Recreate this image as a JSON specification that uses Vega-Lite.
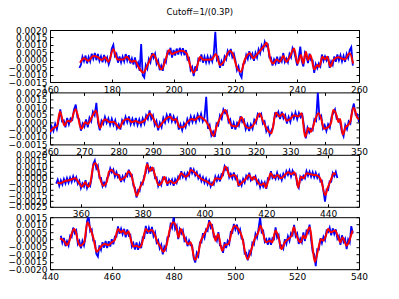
{
"$schema":"https://vega.github.io/schema/vega-lite/v6.json",
"autosize":{"type":"pad"},
"padding":{"left":7,"top":8,"right":0,"bottom":0},
"background":"white",
"title":{"text":"Cutoff=1/(0.3P)","fontSize":8.5,"fontWeight":"normal","font":"DejaVu Sans","offset":9,"anchor":"middle","dx":12,"color":"black"},
"spacing":10.4,
"bounds":"flush",
"config":{
"font":"DejaVu Sans",
"view":{"stroke":"black","strokeWidth":1},
"axis":{"domain":false,"grid":false,"tickColor":"black","tickSize":-3,"labelFont":"DejaVu Sans","labelFontSize":9,"labelColor":"black","labelOverlap":false,"labelFlush":false,"labelBound":false,"labelPadding":6,"title":null}
},
"datasets":{
"red":[
{"x":169.7,"y":-0.0002},{"x":171,"y":0.0001},{"x":172.4,"y":-0.00007},{"x":174,"y":0.00025},{"x":175.6,"y":0.00016},{"x":176.7,"y":-0.00002},{"x":177.8,"y":0.00016},{"x":178.9,"y":-0.00013},{"x":180.5,"y":0.0007},{"x":181.8,"y":0.00002},{"x":183.7,"y":0.00002},{"x":184.8,"y":0.0002},{"x":186.4,"y":-0.00013},{"x":187.5,"y":-0.00007},{"x":188.6,"y":-0.00047},{"x":190.2,"y":-0.00087},{"x":191.8,"y":-0.00025},{"x":193.4,"y":0.00036},{"x":194.7,"y":-0.00013},{"x":196.1,"y":-0.00065},{"x":197.2,"y":-0.00013},{"x":198.6,"y":0.00065},{"x":199.4,"y":0.00038},{"x":200.4,"y":0.00047},{"x":202.6,"y":0.0006},{"x":204.2,"y":0.00043},{"x":205.5,"y":-0.00047},{"x":206.4,"y":-0.00087},{"x":207.5,"y":-0.0005},{"x":208.6,"y":0.0002},{"x":209.6,"y":0},{"x":212.3,"y":0.00002},{"x":213.7,"y":0.00038},{"x":215,"y":-0.00036},{"x":216,"y":-0.0002},{"x":218.2,"y":0.00058},{"x":219.3,"y":0.00031},{"x":220.4,"y":-0.00047},{"x":221.8,"y":-0.00081},{"x":223,"y":-0.00002},{"x":224.7,"y":0.00043},{"x":225.8,"y":0.00009},{"x":226.8,"y":0.00031},{"x":229.5,"y":0.00099},{"x":230.1,"y":0.00114},{"x":231.4,"y":-0.00002},{"x":232.2,"y":-0.00025},{"x":233.3,"y":0.00002},{"x":234.4,"y":-0.00013},{"x":235.5,"y":0.00025},{"x":236.5,"y":-0.00013},{"x":237.6,"y":0.0002},{"x":239,"y":0.00076},{"x":240.1,"y":-0.00025},{"x":241.2,"y":0.00031},{"x":242,"y":-0.00025},{"x":242.8,"y":0.00054},{"x":243.5,"y":-0.00002},{"x":244.3,"y":0.00031},{"x":245.5,"y":-0.00065},{"x":246.5,"y":-0.00036},{"x":247.1,"y":-0.00047},{"x":248.2,"y":0.0002},{"x":249,"y":0.00002},{"x":249.7,"y":0.0002},{"x":250.8,"y":-0.00047},{"x":251.7,"y":-0.00002},{"x":253.3,"y":0.00016},{"x":254.3,"y":0.00009},{"x":255.4,"y":0.00002},{"x":257,"y":0.00043},{"x":258.1,"y":-0.00025},
{"x":260,"y":-0.00066},{"x":261,"y":-0.0004},{"x":262,"y":-0.00027},{"x":262.9,"y":0.00069},{"x":263.7,"y":0.0001},{"x":264.2,"y":-0.00023},{"x":265.1,"y":0.0001},{"x":266,"y":0.00003},{"x":267.4,"y":0.00086},{"x":268,"y":0.00054},{"x":268.7,"y":-0.00023},{"x":269.2,"y":-0.00045},{"x":270.2,"y":-0.00001},{"x":271,"y":-0.00012},{"x":272.3,"y":0.0004},{"x":273.4,"y":0.00076},{"x":274.6,"y":-0.0004},{"x":275.5,"y":0.0001},{"x":276.3,"y":0.00017},{"x":277.3,"y":0},{"x":278.4,"y":0.00003},{"x":279.4,"y":-0.00018},{"x":280.2,"y":-0.0004},{"x":281.4,"y":0.0001},{"x":282.8,"y":0.00021},{"x":283.8,"y":0},{"x":284.8,"y":0.00008},{"x":286.2,"y":-0.00005},{"x":287.5,"y":0.0001},{"x":289.1,"y":0.00058},{"x":290.6,"y":0},{"x":291.6,"y":-0.00034},{"x":292.5,"y":-0.00012},{"x":293.7,"y":0.00021},{"x":295,"y":0.00036},{"x":295.9,"y":0.00014},{"x":296.7,"y":0.00021},{"x":297.7,"y":-0.00034},{"x":298.8,"y":-0.00034},{"x":300,"y":0},{"x":301.3,"y":0.00021},{"x":302.2,"y":0.00014},{"x":303.5,"y":0.00038},{"x":304.7,"y":0.00021},{"x":305.6,"y":0},{"x":306.6,"y":-0.00045},{"x":307.6,"y":-0.00093},{"x":308.6,"y":-0.00023},{"x":309.5,"y":0.00025},{"x":311,"y":0.00082},{"x":312,"y":0.00021},{"x":312.9,"y":-0.00023},{"x":314.4,"y":-0.00029},{"x":315.8,"y":0.00032},{"x":316.8,"y":-0.00023},{"x":317.8,"y":-0.0004},{"x":318.7,"y":-0.00034},{"x":320.2,"y":0.00021},{"x":321,"y":0.00058},{"x":322,"y":0.0001},{"x":323.1,"y":-0.00045},{"x":324.5,"y":-0.00075},{"x":325.8,"y":0.00065},{"x":326.8,"y":0.00038},{"x":327.8,"y":0.00054},{"x":329,"y":0.0001},{"x":330,"y":0.00021},{"x":331.1,"y":0.00047},{"x":332.3,"y":0.00038},{"x":333.3,"y":0.0006},{"x":334.3,"y":-0.00099},{"x":335.3,"y":-0.0004},{"x":336,"y":-0.00066},{"x":337.2,"y":0.00014},{"x":338.2,"y":0.0006},{"x":339,"y":0.00021},{"x":339.8,"y":-0.00045},{"x":341.1,"y":-0.00034},{"x":341.9,"y":0},{"x":342.5,"y":0.00082},{"x":343.5,"y":0.00043},{"x":344,"y":0},{"x":344.5,"y":0.00021},{"x":345.3,"y":-0.00084},{"x":346.1,"y":-0.00034},{"x":346.9,"y":-0.00018},{"x":347.4,"y":0},{"x":348.4,"y":0.00097},{"x":348.9,"y":0.00076},{"x":349.4,"y":0.00032},{"x":350,"y":0.0002},
{"x":352.4,"y":-0.00038},{"x":353.2,"y":-0.00047},{"x":354.8,"y":-0.00027},{"x":356.4,"y":-0.00018},{"x":358.1,"y":-0.00003},{"x":359.5,"y":-0.00047},{"x":360.3,"y":-0.00076},{"x":361.4,"y":-0.00038},{"x":361.9,"y":-0.00062},{"x":362.4,"y":-0.00076},{"x":363,"y":-0.00047},{"x":364.1,"y":0.00113},{"x":364.6,"y":0.00127},{"x":365.5,"y":0.00084},{"x":366.2,"y":-0.00003},{"x":367.3,"y":-0.00067},{"x":368.4,"y":-0.00033},{"x":369.1,"y":0.00055},{"x":370,"y":0.00069},{"x":371.1,"y":0.00031},{"x":372.2,"y":0.00026},{"x":372.7,"y":-0.00018},{"x":373.8,"y":-0.00003},{"x":374.5,"y":0.00011},{"x":375.4,"y":0.00055},{"x":376.3,"y":0.00026},{"x":377,"y":-0.00047},{"x":378.1,"y":-0.00155},{"x":379,"y":-0.00091},{"x":379.8,"y":-0.00047},{"x":380.5,"y":-0.00003},{"x":381.4,"y":0.00119},{"x":382.3,"y":0.0006},{"x":383.1,"y":0.0009},{"x":384.1,"y":0.00011},{"x":385.2,"y":-0.00062},{"x":386.3,"y":-0.00033},{"x":387,"y":0.00011},{"x":387.9,"y":-0.00047},{"x":389,"y":-0.00027},{"x":390,"y":-0.00047},{"x":391.7,"y":-0.00003},{"x":392.4,"y":0.0004},{"x":393.8,"y":0.00011},{"x":394.9,"y":0.00031},{"x":395.5,"y":0.00069},{"x":397.1,"y":0.0004},{"x":398.1,"y":0.00011},{"x":398.7,"y":-0.00003},{"x":400.9,"y":-0.00033},{"x":402.5,"y":-0.00062},{"x":403.6,"y":-0.00003},{"x":405.2,"y":-0.00009},{"x":406.8,"y":0.00098},{"x":407.4,"y":0.00069},{"x":408.2,"y":0.00011},{"x":409.5,"y":0.00026},{"x":410.4,"y":0.00002},{"x":411.1,"y":-0.00062},{"x":412.2,"y":-0.00038},{"x":413.3,"y":-0.00009},{"x":414.4,"y":0.00026},{"x":415.5,"y":-0.00018},{"x":416,"y":0.00011},{"x":417.3,"y":-0.00038},{"x":418.2,"y":-0.00062},{"x":419.3,"y":-0.00047},{"x":419.8,"y":-0.00085},{"x":420.9,"y":0.00002},{"x":421.4,"y":0.0004},{"x":422.5,"y":0.00002},{"x":423.6,"y":0.00026},{"x":424.7,"y":-0.00003},{"x":426,"y":0.00026},{"x":427.1,"y":0.00049},{"x":428.1,"y":0.00031},{"x":429,"y":0.00049},{"x":429.9,"y":-0.00018},{"x":430.3,"y":-0.00085},{"x":431.2,"y":0.00011},{"x":432,"y":-0.00003},{"x":433.1,"y":0.0004},{"x":434.4,"y":0.00031},{"x":435.5,"y":0.00026},{"x":436.6,"y":0.0002},{"x":437.7,"y":-0.00018},{"x":439.1,"y":-0.00149},{"x":439.8,"y":-0.00091},{"x":440.9,"y":-0.00018},{"x":441.8,"y":0.0004},{"x":442.5,"y":0.00031},
{"x":443.2,"y":0.00008},{"x":444,"y":-0.00001},{"x":444.9,"y":-0.00019},{"x":445.4,"y":-0.00037},{"x":446.3,"y":-0.00008},{"x":446.8,"y":0.00026},{"x":447.8,"y":0.00071},{"x":448.4,"y":0.00048},{"x":449,"y":-0.00008},{"x":449.7,"y":-0.00042},{"x":450.6,"y":-0.00031},{"x":451.1,"y":-0.00015},{"x":452.1,"y":0.00116},{"x":452.9,"y":0.00082},{"x":454,"y":0.00014},{"x":455.1,"y":-0.00083},{"x":455.9,"y":-0.00065},{"x":456.7,"y":-0.00042},{"x":457.8,"y":-0.00031},{"x":458.9,"y":-0.00037},{"x":460,"y":-0.00019},{"x":461,"y":-0.00001},{"x":461.6,"y":0.00048},{"x":462.1,"y":0.00071},{"x":462.9,"y":0.00048},{"x":463.7,"y":0.0006},{"x":464.5,"y":0.00037},{"x":465.4,"y":0.00053},{"x":466.1,"y":0.00003},{"x":467,"y":-0.00047},{"x":468,"y":-0.00042},{"x":468.9,"y":-0.00053},{"x":469.7,"y":-0.00031},{"x":471,"y":0.00071},{"x":471.8,"y":0.00053},{"x":472.9,"y":0.00064},{"x":474,"y":0.00026},{"x":474.8,"y":-0.00019},{"x":475.6,"y":-0.00042},{"x":476.7,"y":-0.00083},{"x":477.8,"y":-0.00031},{"x":478.8,"y":0.00071},{"x":479.9,"y":0.00116},{"x":481,"y":0.00071},{"x":481.6,"y":0.00014},{"x":482.3,"y":0.00071},{"x":483.1,"y":0.00037},{"x":483.9,"y":-0.00008},{"x":484.8,"y":-0.00031},{"x":485.5,"y":-0.00019},{"x":486.9,"y":-0.00137},{"x":488,"y":-0.0009},{"x":488.8,"y":-0.0001},{"x":489.5,"y":0.0002},{"x":491,"y":0.0008},{"x":491.7,"y":0.00116},{"x":492.9,"y":0.00048},{"x":493.6,"y":-0.00008},{"x":494.4,"y":0.00037},{"x":495.7,"y":-0.00076},{"x":496.6,"y":-0.00037},{"x":497.7,"y":-0.00031},{"x":499.1,"y":0.00071},{"x":499.8,"y":0.00093},{"x":500.9,"y":0.00071},{"x":502,"y":0.00026},{"x":503.9,"y":-0.00132},{"x":505.2,"y":-0.00065},{"x":506.3,"y":0.00008},{"x":507.4,"y":0.00048},{"x":508.1,"y":0.00093},{"x":509,"y":0.00037},{"x":509.9,"y":-0.00019},{"x":511.2,"y":-0.00008},{"x":511.9,"y":-0.00019},{"x":513,"y":0.0006},{"x":514.1,"y":0.00003},{"x":514.9,"y":-0.00065},{"x":516,"y":-0.00019},{"x":517.1,"y":0.00003},{"x":518.2,"y":0.00026},{"x":518.9,"y":0.00082},{"x":519.6,"y":0.00037},{"x":520.5,"y":-0.00008},{"x":521.1,"y":-0.00019},{"x":522,"y":0.00026},{"x":522.6,"y":0.00008},{"x":523.6,"y":0.00071},{"x":524.1,"y":0.00082},{"x":524.9,"y":-0.0004},{"x":525.7,"y":-0.00151},{"x":526.8,"y":-0.00065},{"x":527.7,"y":0.00003},{"x":528.4,"y":-0.00008},{"x":529.3,"y":0.00026},{"x":530,"y":0.00071},{"x":530.9,"y":0.00048},{"x":532.2,"y":0.0006},{"x":533.3,"y":0.00014},{"x":533.9,"y":-0.00019},{"x":534.7,"y":0.00014},{"x":536,"y":-0.00042},{"x":537,"y":-0.00001},{"x":537.9,"y":0.0006}
],
"blue":[
{"x":169.5,"y":-0.00055},{"x":170,"y":-0.00035},{"x":170.5,"y":0.0002},{"x":171,"y":-0.0001},{"x":171.5,"y":0.00028},{"x":172,"y":-0.00025},{"x":172.5,"y":0.00018},{"x":173,"y":-0.00012},{"x":173.5,"y":0.0004},{"x":174,"y":0.00005},{"x":174.5,"y":0.00045},{"x":175,"y":-0.00003},{"x":175.5,"y":0.00038},{"x":176,"y":-0.00008},{"x":176.5,"y":0.00022},{"x":177,"y":-0.00018},{"x":177.5,"y":0.00032},{"x":178,"y":-0.0001},{"x":178.5,"y":0.00015},{"x":179,"y":-0.0003},{"x":179.5,"y":0.00005},{"x":180,"y":0.00075},{"x":180.5,"y":0.001},{"x":181,"y":0.00025},{"x":181.5,"y":0.0004},{"x":182,"y":-0.0002},{"x":182.5,"y":0.00022},{"x":183,"y":-0.00018},{"x":183.5,"y":0.0002},{"x":184,"y":-0.00012},{"x":184.5,"y":0.00038},{"x":185,"y":-0.00005},{"x":185.5,"y":0.0003},{"x":186,"y":-0.00025},{"x":186.5,"y":0.00008},{"x":187,"y":-0.00032},{"x":187.5,"y":0.00015},{"x":188,"y":-0.00045},{"x":188.5,"y":-0.0002},{"x":189,"y":-0.00075},{"x":189.5,"y":0.00105},{"x":190,"y":-0.00105},{"x":190.5,"y":-0.0012},{"x":191,"y":-0.00035},{"x":191.5,"y":-0.0006},{"x":192,"y":0.00005},{"x":192.5,"y":-0.00018},{"x":193,"y":0.00045},{"x":193.5,"y":0.00012},{"x":194,"y":0.0004},{"x":194.5,"y":-0.00028},{"x":195,"y":-0.00005},{"x":195.5,"y":-0.0007},{"x":196,"y":-0.0004},{"x":196.5,"y":-0.00075},{"x":197,"y":-0.00002},{"x":197.5,"y":-0.00018},{"x":198,"y":0.00055},{"x":198.5,"y":0.0004},{"x":199,"y":0.0008},{"x":199.5,"y":0.00015},{"x":200,"y":0.00065},{"x":200.5,"y":0.00028},{"x":201,"y":0.00075},{"x":201.5,"y":0.00035},{"x":202,"y":0.0008},{"x":202.5,"y":0.00042},{"x":203,"y":0.00078},{"x":203.5,"y":0.0003},{"x":204,"y":0.00065},{"x":204.5,"y":0},{"x":205,"y":0.0001},{"x":205.5,"y":-0.0007},{"x":206,"y":-0.0005},{"x":206.5,"y":-0.0011},{"x":207,"y":-0.00045},{"x":207.5,"y":-0.00075},{"x":208,"y":0.00005},{"x":208.5,"y":-0.00005},{"x":209,"y":0.00035},{"x":209.5,"y":-0.0002},{"x":210,"y":0.0002},{"x":210.5,"y":-0.00018},{"x":211,"y":0.00022},{"x":211.5,"y":-0.00017},{"x":212,"y":0.0002},{"x":212.5,"y":-0.00012},{"x":213,"y":0.0004},{"x":213.5,"y":0.00188},{"x":214,"y":0},{"x":214.5,"y":0.00015},{"x":215,"y":-0.00055},{"x":215.5,"y":-0.0001},{"x":216,"y":-0.0004},{"x":216.5,"y":0.00022},{"x":217,"y":0.00002},{"x":217.5,"y":0.0006},{"x":218,"y":0.00035},{"x":218.5,"y":0.00072},{"x":219,"y":0.00018},{"x":219.5,"y":0.0004},{"x":220,"y":-0.00005},{"x":220.5,"y":-0.0007},{"x":221,"y":-0.00045},{"x":221.5,"y":-0.001},{"x":222,"y":-0.0012},{"x":222.5,"y":-0.0003},{"x":223,"y":-0.00022},{"x":223.5,"y":0.00032},{"x":224,"y":0.00005},{"x":224.5,"y":0.00058},{"x":225,"y":0.00015},{"x":225.5,"y":0.0004},{"x":226,"y":-0.00008},{"x":226.5,"y":0.00045},{"x":227,"y":0.00015},{"x":227.5,"y":0.0007},{"x":228,"y":0.00042},{"x":228.5,"y":0.00095},{"x":229,"y":0.00068},{"x":229.5,"y":0.0012},{"x":230,"y":0.0009},{"x":230.5,"y":0.001},{"x":231,"y":0.00015},{"x":231.5,"y":0.00015},{"x":232,"y":-0.0004},{"x":232.5,"y":0.00002},{"x":233,"y":-0.00025},{"x":233.5,"y":0.0002},{"x":234,"y":-0.00028},{"x":234.5,"y":0.00012},{"x":235,"y":-0.00012},{"x":235.5,"y":0.00045},{"x":236,"y":-0.00015},{"x":236.5,"y":0.00008},{"x":237,"y":-0.00018},{"x":237.5,"y":0.00038},{"x":238,"y":0.00015},{"x":238.5,"y":0.00078},{"x":239,"y":0.00055},{"x":239.5,"y":0.0001},{"x":240,"y":-0.0004},{"x":240.5,"y":0.00015},{"x":241,"y":0.00088},{"x":241.5,"y":-0.0001},{"x":242,"y":-0.00045},{"x":242.5,"y":0.00045},{"x":243,"y":0.0002},{"x":243.5,"y":-0.00022},{"x":244,"y":0.0004},{"x":244.5,"y":-0.00005},{"x":245,"y":-0.00005},{"x":245.5,"y":-0.00088},{"x":246,"y":-0.0003},{"x":246.5,"y":-0.00058},{"x":247,"y":-0.00025},{"x":247.5,"y":-0.00045},{"x":248,"y":0.00035},{"x":248.5,"y":-0.00008},{"x":249,"y":0.00022},{"x":249.5,"y":-0.00005},{"x":250,"y":0.00022},{"x":250.5,"y":-0.00055},{"x":251,"y":-0.00012},{"x":251.5,"y":-0.00035},{"x":252,"y":0.00022},{"x":252.5,"y":-0.00014},{"x":253,"y":0.00035},{"x":253.5,"y":-0.00005},{"x":254,"y":0.0003},{"x":254.5,"y":-0.00012},{"x":255,"y":0.00025},{"x":255.5,"y":-0.00015},{"x":256,"y":0.00038},{"x":256.5,"y":0.0001},{"x":257,"y":0.00065},{"x":257.5,"y":0.00085},{"x":258,"y":-0.0004},
{"x":260,"y":-0.00085},{"x":260.5,"y":-0.0003},{"x":261,"y":-0.0006},{"x":261.5,"y":-0.00012},{"x":262,"y":-0.00048},{"x":262.5,"y":0.0001},{"x":263,"y":0.00085},{"x":263.5,"y":0.00005},{"x":264,"y":0.00012},{"x":264.5,"y":-0.00035},{"x":265,"y":0.00028},{"x":265.5,"y":-0.00015},{"x":266,"y":0.00025},{"x":266.5,"y":0.00015},{"x":267,"y":0.00085},{"x":267.5,"y":0.00118},{"x":268,"y":0.0003},{"x":268.5,"y":0.0002},{"x":269,"y":-0.00058},{"x":269.5,"y":-0.0001},{"x":270,"y":-0.00032},{"x":270.5,"y":0.00018},{"x":271,"y":-0.00035},{"x":271.5,"y":0.0003},{"x":272,"y":0.00005},{"x":272.5,"y":0.0007},{"x":273,"y":0.00045},{"x":273.5,"y":0.0013},{"x":274,"y":-0.00005},{"x":274.5,"y":-0.00055},{"x":275,"y":0.0001},{"x":275.5,"y":-0.00012},{"x":276,"y":0.00035},{"x":276.5,"y":-0.00005},{"x":277,"y":0.00025},{"x":277.5,"y":-0.0002},{"x":278,"y":0.00022},{"x":278.5,"y":-0.0002},{"x":279,"y":0.00012},{"x":279.5,"y":-0.00042},{"x":280,"y":-0.00015},{"x":280.5,"y":-0.0005},{"x":281,"y":0.00014},{"x":281.5,"y":-0.0001},{"x":282,"y":0.00036},{"x":282.5,"y":-0.00002},{"x":283,"y":0.00038},{"x":283.5,"y":-0.00015},{"x":284,"y":0.00022},{"x":284.5,"y":-0.00015},{"x":285,"y":0.00028},{"x":285.5,"y":-0.0002},{"x":286,"y":0.00018},{"x":286.5,"y":-0.00022},{"x":287,"y":0.00025},{"x":287.5,"y":-0.0001},{"x":288,"y":0.00045},{"x":288.5,"y":0.0002},{"x":289,"y":0.00078},{"x":289.5,"y":0.0002},{"x":290,"y":0.00045},{"x":290.5,"y":-0.0002},{"x":291,"y":0.00008},{"x":291.5,"y":-0.00055},{"x":292,"y":-0.00005},{"x":292.5,"y":-0.00035},{"x":293,"y":0.00028},{"x":293.5,"y":-0.00003},{"x":294,"y":0.00048},{"x":294.5,"y":0.0001},{"x":295,"y":0.00058},{"x":295.5,"y":0.00005},{"x":296,"y":0.00038},{"x":296.5,"y":-0.00002},{"x":297,"y":0.00025},{"x":297.5,"y":-0.0005},{"x":298,"y":-0.00015},{"x":298.5,"y":-0.00055},{"x":299,"y":-0.00008},{"x":299.5,"y":-0.00035},{"x":300,"y":0.0002},{"x":300.5,"y":-0.00012},{"x":301,"y":0.00038},{"x":301.5,"y":0},{"x":302,"y":0.00038},{"x":302.5,"y":0},{"x":303,"y":0.0005},{"x":303.5,"y":0.00015},{"x":304,"y":0.00055},{"x":304.5,"y":0.00005},{"x":305,"y":0.00035},{"x":305.5,"y":0.0017},{"x":306,"y":-0.00045},{"x":306.5,"y":-0.0002},{"x":307,"y":-0.0009},{"x":307.5,"y":-0.00065},{"x":308,"y":-0.001},{"x":308.5,"y":-0.0001},{"x":309,"y":-0.00022},{"x":309.5,"y":0.00045},{"x":310,"y":0.00022},{"x":310.5,"y":0.00085},{"x":311,"y":0.0006},{"x":311.5,"y":0.00075},{"x":312,"y":0},{"x":312.5,"y":0.00018},{"x":313,"y":-0.00045},{"x":313.5,"y":-0.00005},{"x":314,"y":-0.0005},{"x":314.5,"y":-0.00005},{"x":315,"y":-0.00025},{"x":315.5,"y":0.0004},{"x":316,"y":0},{"x":316.5,"y":0.00015},{"x":317,"y":-0.00048},{"x":317.5,"y":-0.00015},{"x":318,"y":-0.0006},{"x":318.5,"y":-0.00015},{"x":319,"y":-0.00045},{"x":319.5,"y":0.00015},{"x":320,"y":-0.00005},{"x":320.5,"y":0.00055},{"x":321,"y":0.00038},{"x":321.5,"y":0.00055},{"x":322,"y":-0.0001},{"x":322.5,"y":0.00005},{"x":323,"y":-0.00062},{"x":323.5,"y":-0.00035},{"x":324,"y":-0.00085},{"x":324.5,"y":-0.00055},{"x":325,"y":-0.00032},{"x":325.5,"y":0.00055},{"x":326,"y":0.0004},{"x":326.5,"y":0.00068},{"x":327,"y":0.0002},{"x":327.5,"y":0.0007},{"x":328,"y":0.00025},{"x":328.5,"y":0.00048},{"x":329,"y":-0.0001},{"x":329.5,"y":0.00035},{"x":330,"y":0},{"x":330.5,"y":0.00055},{"x":331,"y":0.00025},{"x":331.5,"y":0.00065},{"x":332,"y":0.0002},{"x":332.5,"y":0.00062},{"x":333,"y":0.00032},{"x":333.5,"y":0.0005},{"x":334,"y":-0.0003},{"x":334.5,"y":-0.0011},{"x":335,"y":-0.00038},{"x":335.5,"y":-0.0007},{"x":336,"y":-0.00045},{"x":336.5,"y":-0.00055},{"x":337,"y":0.0002},{"x":337.5,"y":0.00008},{"x":338,"y":0.002},{"x":338.5,"y":0.00025},{"x":339,"y":0.00042},{"x":339.5,"y":-0.00042},{"x":340,"y":-0.0002},{"x":340.5,"y":-0.0006},{"x":341,"y":-0.00015},{"x":341.5,"y":-0.00038},{"x":342,"y":0.00035},{"x":342.5,"y":0.0006},{"x":343,"y":0.00085},{"x":343.5,"y":0.00022},{"x":344,"y":0.0002},{"x":344.5,"y":0},{"x":345,"y":-0.00065},{"x":345.5,"y":-0.00095},{"x":346,"y":-0.0002},{"x":346.5,"y":-0.00048},{"x":347,"y":0.00005},{"x":347.5,"y":-0.0001},{"x":348,"y":0.0008},{"x":348.5,"y":0.00125},{"x":349,"y":0.0005},{"x":349.5,"y":0.00052},{"x":350,"y":0},
{"x":352,"y":-0.0005},{"x":352.5,"y":-0.00015},{"x":353,"y":-0.00068},{"x":353.5,"y":-0.00022},{"x":354,"y":-0.00058},{"x":354.5,"y":-0.0001},{"x":355,"y":-0.00048},{"x":355.5,"y":-0.00002},{"x":356,"y":-0.00042},{"x":356.5,"y":0.00003},{"x":357,"y":-0.00035},{"x":357.5,"y":0.00014},{"x":358,"y":-0.00025},{"x":358.5,"y":0.00005},{"x":359,"y":-0.00052},{"x":359.5,"y":-0.00025},{"x":360,"y":-0.00088},{"x":360.5,"y":-0.00048},{"x":361,"y":-0.00075},{"x":361.5,"y":-0.0002},{"x":362,"y":-0.00088},{"x":362.5,"y":-0.0005},{"x":363,"y":-0.0007},{"x":363.5,"y":0.00005},{"x":364,"y":0.0012},{"x":364.5,"y":0.0015},{"x":365,"y":0.0008},{"x":365.5,"y":0.00105},{"x":366,"y":0},{"x":366.5,"y":0},{"x":367,"y":-0.00072},{"x":367.5,"y":-0.0004},{"x":368,"y":-0.00068},{"x":368.5,"y":0},{"x":369,"y":0.0002},{"x":369.5,"y":0.00082},{"x":370,"y":0.00048},{"x":370.5,"y":0.00072},{"x":371,"y":0.00012},{"x":371.5,"y":0.0005},{"x":372,"y":0.00005},{"x":372.5,"y":0.0002},{"x":373,"y":-0.00035},{"x":373.5,"y":0.00014},{"x":374,"y":-0.0002},{"x":374.5,"y":0.00032},{"x":375,"y":0.00015},{"x":375.5,"y":0.00072},{"x":376,"y":0.00015},{"x":376.5,"y":0.00025},{"x":377,"y":-0.00068},{"x":377.5,"y":-0.00085},{"x":378,"y":-0.0017},{"x":378.5,"y":-0.00105},{"x":379,"y":-0.00115},{"x":379.5,"y":-0.00042},{"x":380,"y":-0.00055},{"x":380.5,"y":0.00018},{"x":381,"y":0.00042},{"x":381.5,"y":0.00135},{"x":382,"y":0.00058},{"x":382.5,"y":0.0009},{"x":383,"y":0.00065},{"x":383.5,"y":0.0008},{"x":384,"y":-0.00002},{"x":384.5,"y":0.00005},{"x":385,"y":-0.0007},{"x":385.5,"y":-0.00032},{"x":386,"y":-0.00062},{"x":386.5,"y":0.00002},{"x":387,"y":-0.0001},{"x":387.5,"y":0},{"x":388,"y":-0.00068},{"x":388.5,"y":-0.00015},{"x":389,"y":-0.00048},{"x":389.5,"y":-0.00015},{"x":390,"y":-0.00068},{"x":390.5,"y":-0.00012},{"x":391,"y":-0.00042},{"x":391.5,"y":0.00012},{"x":392,"y":-0.00005},{"x":392.5,"y":0.00058},{"x":393,"y":0.00008},{"x":393.5,"y":0.00038},{"x":394,"y":-0.00005},{"x":394.5,"y":0.00045},{"x":395,"y":0.00018},{"x":395.5,"y":0.0009},{"x":396,"y":0.0004},{"x":396.5,"y":0.00072},{"x":397,"y":0.00022},{"x":397.5,"y":0.0005},{"x":398,"y":-0.00005},{"x":398.5,"y":0.00022},{"x":399,"y":-0.00028},{"x":399.5,"y":0.00006},{"x":400,"y":-0.00042},{"x":400.5,"y":-0.00006},{"x":401,"y":-0.00055},{"x":401.5,"y":-0.00022},{"x":402,"y":-0.00075},{"x":402.5,"y":-0.0004},{"x":403,"y":-0.00058},{"x":403.5,"y":0.00012},{"x":404,"y":-0.00025},{"x":404.5,"y":0.00015},{"x":405,"y":-0.0003},{"x":405.5,"y":0.00032},{"x":406,"y":0.00025},{"x":406.5,"y":0.001},{"x":407,"y":0.00068},{"x":407.5,"y":0.00085},{"x":408,"y":0.00005},{"x":408.5,"y":0.00035},{"x":409,"y":-0.00002},{"x":409.5,"y":0.00048},{"x":410,"y":-0.00008},{"x":410.5,"y":0.00014},{"x":411,"y":-0.00075},{"x":411.5,"y":-0.0003},{"x":412,"y":-0.00065},{"x":412.5,"y":-0.00008},{"x":413,"y":-0.0004},{"x":413.5,"y":0.00018},{"x":414,"y":-0.00008},{"x":414.5,"y":0.00045},{"x":415,"y":-0.0002},{"x":415.5,"y":0.00002},{"x":416,"y":-0.0001},{"x":416.5,"y":0.00014},{"x":417,"y":-0.0005},{"x":417.5,"y":-0.00022},{"x":418,"y":-0.0008},{"x":418.5,"y":-0.00035},{"x":419,"y":-0.00075},{"x":419.5,"y":-0.0004},{"x":420,"y":-0.00095},{"x":420.5,"y":-0.00005},{"x":421,"y":-0.00012},{"x":421.5,"y":0.00058},{"x":422,"y":0},{"x":422.5,"y":0.00022},{"x":423,"y":-0.00008},{"x":423.5,"y":0.00045},{"x":424,"y":-0.00005},{"x":424.5,"y":0.00022},{"x":425,"y":-0.00018},{"x":425.5,"y":0.00036},{"x":426,"y":0.00005},{"x":426.5,"y":0.00058},{"x":427,"y":0.00025},{"x":427.5,"y":0.00065},{"x":428,"y":0.00012},{"x":428.5,"y":0.00062},{"x":429,"y":0.00028},{"x":429.5,"y":0.00035},{"x":430,"y":-0.00058},{"x":430.5,"y":-0.00085},{"x":431,"y":0.0001},{"x":431.5,"y":-0.00015},{"x":432,"y":0.00018},{"x":432.5,"y":-0.00004},{"x":433,"y":0.00058},{"x":433.5,"y":0.00018},{"x":434,"y":0.00055},{"x":434.5,"y":0.0001},{"x":435,"y":0.0005},{"x":435.5,"y":0.00005},{"x":436,"y":0.00045},{"x":436.5,"y":0},{"x":437,"y":0.00028},{"x":437.5,"y":-0.00032},{"x":438,"y":-0.00025},{"x":438.5,"y":-0.00115},{"x":439,"y":-0.00205},{"x":439.5,"y":-0.001},{"x":440,"y":-0.00105},{"x":440.5,"y":-0.0003},{"x":441,"y":-0.00032},{"x":441.5,"y":0.00042},{"x":442,"y":0.00015},{"x":442.5,"y":0.00052},{"x":443,"y":0},
{"x":443.5,"y":0.00025},{"x":444,"y":-0.00022},{"x":444.5,"y":0.0001},{"x":445,"y":-0.00045},{"x":445.5,"y":-0.00012},{"x":446,"y":-0.0004},{"x":446.5,"y":0.00025},{"x":447,"y":0.00015},{"x":447.5,"y":0.0008},{"x":448,"y":0.00042},{"x":448.5,"y":0.0006},{"x":449,"y":-0.0003},{"x":449.5,"y":-0.0001},{"x":450,"y":-0.0006},{"x":450.5,"y":-0.0001},{"x":451,"y":-0.0004},{"x":451.5,"y":0.00015},{"x":452,"y":0.00125},{"x":452.5,"y":0.0016},{"x":453,"y":0.00055},{"x":453.5,"y":0.00068},{"x":454,"y":-0.00008},{"x":454.5,"y":-0.0001},{"x":455,"y":-0.00098},{"x":455.5,"y":-0.00115},{"x":456,"y":-0.0004},{"x":456.5,"y":-0.0007},{"x":457,"y":-0.00018},{"x":457.5,"y":-0.00055},{"x":458,"y":-0.0001},{"x":458.5,"y":-0.00058},{"x":459,"y":-0.00012},{"x":459.5,"y":-0.00048},{"x":460,"y":0.00002},{"x":460.5,"y":-0.00032},{"x":461,"y":0.0002},{"x":461.5,"y":0.00018},{"x":462,"y":0.00088},{"x":462.5,"y":0.00038},{"x":463,"y":0.00072},{"x":463.5,"y":0.00035},{"x":464,"y":0.00072},{"x":464.5,"y":0.00015},{"x":465,"y":0.00068},{"x":465.5,"y":0.00025},{"x":466,"y":0.00032},{"x":466.5,"y":-0.00048},{"x":467,"y":-0.00025},{"x":467.5,"y":-0.00068},{"x":468,"y":-0.0002},{"x":468.5,"y":-0.0007},{"x":469,"y":-0.00028},{"x":469.5,"y":-0.00058},{"x":470,"y":0.00015},{"x":470.5,"y":0.0001},{"x":471,"y":0.00092},{"x":471.5,"y":0.00038},{"x":472,"y":0.00078},{"x":472.5,"y":0.00038},{"x":473,"y":0.00085},{"x":473.5,"y":0.00022},{"x":474,"y":0.00048},{"x":474.5,"y":-0.00022},{"x":475,"y":-0.00005},{"x":475.5,"y":-0.0006},{"x":476,"y":-0.00035},{"x":476.5,"y":-0.001},{"x":477,"y":-0.00048},{"x":477.5,"y":-0.00068},{"x":478,"y":0.00015},{"x":478.5,"y":0.0002},{"x":479,"y":0.001},{"x":479.5,"y":0.00078},{"x":480,"y":0.0015},{"x":480.5,"y":0.0007},{"x":481,"y":0.00092},{"x":481.5,"y":0.00002},{"x":482,"y":0.00068},{"x":482.5,"y":0.0004},{"x":483,"y":0.00062},{"x":483.5,"y":-0.00008},{"x":484,"y":0.0001},{"x":484.5,"y":-0.00045},{"x":485,"y":-0.00008},{"x":485.5,"y":-0.0004},{"x":486,"y":-0.0004},{"x":486.5,"y":-0.00125},{"x":487,"y":-0.00155},{"x":487.5,"y":-0.0009},{"x":488,"y":-0.00112},{"x":488.5,"y":-0.0002},{"x":489,"y":-0.00022},{"x":489.5,"y":0.00042},{"x":490,"y":0.00012},{"x":490.5,"y":0.00068},{"x":491,"y":0.00058},{"x":491.5,"y":0.0013},{"x":492,"y":0.00078},{"x":492.5,"y":0.00092},{"x":493,"y":0.00018},{"x":493.5,"y":0.0002},{"x":494,"y":-0.00008},{"x":494.5,"y":0.0005},{"x":495,"y":-0.0004},{"x":495.5,"y":-0.00045},{"x":496,"y":-0.0009},{"x":496.5,"y":-0.00018},{"x":497,"y":-0.00058},{"x":497.5,"y":-0.0001},{"x":498,"y":-0.0003},{"x":498.5,"y":0.0005},{"x":499,"y":0.00045},{"x":499.5,"y":0.00105},{"x":500,"y":0.00068},{"x":500.5,"y":0.001},{"x":501,"y":0.00045},{"x":501.5,"y":0.00068},{"x":502,"y":0.00005},{"x":502.5,"y":0},{"x":503,"y":-0.00095},{"x":503.5,"y":-0.0009},{"x":504,"y":-0.0014},{"x":504.5,"y":-0.0008},{"x":505,"y":-0.00098},{"x":505.5,"y":-0.00022},{"x":506,"y":-0.00035},{"x":506.5,"y":0.00038},{"x":507,"y":0.00012},{"x":507.5,"y":0.00075},{"x":508,"y":0.0015},{"x":508.5,"y":0.00048},{"x":509,"y":0.00058},{"x":509.5,"y":-0.00015},{"x":510,"y":0.00002},{"x":510.5,"y":-0.00035},{"x":511,"y":0.00012},{"x":511.5,"y":-0.00035},{"x":512,"y":0.0001},{"x":512.5,"y":0.00002},{"x":513,"y":0.00082},{"x":513.5,"y":0.00012},{"x":514,"y":0.0003},{"x":514.5,"y":-0.00052},{"x":515,"y":-0.0004},{"x":515.5,"y":-0.00062},{"x":516,"y":0.00002},{"x":516.5,"y":-0.0003},{"x":517,"y":0.00022},{"x":517.5,"y":-0.0001},{"x":518,"y":0.00042},{"x":518.5,"y":0.00028},{"x":519,"y":0.00098},{"x":519.5,"y":0.00022},{"x":520,"y":0.0004},{"x":520.5,"y":-0.0003},{"x":521,"y":0.00005},{"x":521.5,"y":-0.0002},{"x":522,"y":0.00048},{"x":522.5,"y":-0.0001},{"x":523,"y":0.00058},{"x":523.5,"y":0.00045},{"x":524,"y":0.001},{"x":524.5,"y":0},{"x":525,"y":-0.00082},{"x":525.5,"y":-0.001},{"x":526,"y":-0.0018},{"x":526.5,"y":-0.00065},{"x":527,"y":-0.00068},{"x":527.5,"y":0.00008},{"x":528,"y":-0.00025},{"x":528.5,"y":0.00018},{"x":529,"y":-0.00005},{"x":529.5,"y":0.0006},{"x":530,"y":0.0005},{"x":530.5,"y":0.0008},{"x":531,"y":0.00028},{"x":531.5,"y":0.00075},{"x":532,"y":0.00036},{"x":532.5,"y":0.00068},{"x":533,"y":0.00005},{"x":533.5,"y":0.00024},{"x":534,"y":-0.00036},{"x":534.5,"y":0.00028},{"x":535,"y":-0.00016},{"x":535.5,"y":0.00005},{"x":536,"y":-0.00064},{"x":536.5,"y":0},{"x":537,"y":-0.00022},{"x":537.5,"y":0.0009},{"x":538,"y":0.0004}
]
},
"vconcat":[
{"width":309,"height":52,"layer":[
{"data":{"name":"blue"},"transform":[{"filter":{"field":"x","range":[160,259.5]}}],"mark":{"type":"line","color":"#0000ff","strokeWidth":1.8,"clip":true},
"encoding":{"x":{"field":"x","type":"quantitative","scale":{"domain":[160,260],"nice":false,"zero":false},"axis":{"orient":"bottom","values":[160,180,200,220,240,260]}},
"y":{"field":"y","type":"quantitative","scale":{"domain":[-0.0015,0.002],"nice":false,"zero":false},"axis":{"orient":"left","format":".4f","values":[-0.0015,-0.001,-0.0005,0,0.0005,0.001,0.0015,0.002]}}}},
{"data":{"name":"red"},"transform":[{"filter":{"field":"x","range":[160,259.5]}}],"mark":{"type":"line","color":"#ff0000","strokeWidth":2,"interpolate":"monotone","clip":true},
"encoding":{"x":{"field":"x","type":"quantitative","scale":{"domain":[160,260],"nice":false,"zero":false},"axis":{"orient":"top","labels":false,"values":[160,180,200,220,240,260]}},
"y":{"field":"y","type":"quantitative","scale":{"domain":[-0.0015,0.002],"nice":false,"zero":false},"axis":{"orient":"right","labels":false,"values":[-0.0015,-0.001,-0.0005,0,0.0005,0.001,0.0015,0.002]}}}}
],"resolve":{"axis":{"x":"independent","y":"independent"}}},
{"width":309,"height":52,"layer":[
{"data":{"name":"blue"},"transform":[{"filter":{"field":"x","range":[259.6,350.2]}}],"mark":{"type":"line","color":"#0000ff","strokeWidth":1.8,"clip":true},
"encoding":{"x":{"field":"x","type":"quantitative","scale":{"domain":[260,350],"nice":false,"zero":false},"axis":{"orient":"bottom","values":[260,270,280,290,300,310,320,330,340,350]}},
"y":{"field":"y","type":"quantitative","scale":{"domain":[-0.0015,0.002],"nice":false,"zero":false},"axis":{"orient":"left","format":".4f","values":[-0.0015,-0.001,-0.0005,0,0.0005,0.001,0.0015,0.002]}}}},
{"data":{"name":"red"},"transform":[{"filter":{"field":"x","range":[259.6,350.2]}}],"mark":{"type":"line","color":"#ff0000","strokeWidth":2,"interpolate":"monotone","clip":true},
"encoding":{"x":{"field":"x","type":"quantitative","scale":{"domain":[260,350],"nice":false,"zero":false},"axis":{"orient":"top","labels":false,"values":[260,270,280,290,300,310,320,330,340,350]}},
"y":{"field":"y","type":"quantitative","scale":{"domain":[-0.0015,0.002],"nice":false,"zero":false},"axis":{"orient":"right","labels":false,"values":[-0.0015,-0.001,-0.0005,0,0.0005,0.001,0.0015,0.002]}}}}
],"resolve":{"axis":{"x":"independent","y":"independent"}}},
{"width":309,"height":52,"layer":[
{"data":{"name":"blue"},"transform":[{"filter":{"field":"x","range":[351,443.1]}}],"mark":{"type":"line","color":"#0000ff","strokeWidth":1.8,"clip":true},
"encoding":{"x":{"field":"x","type":"quantitative","scale":{"domain":[350,450],"nice":false,"zero":false},"axis":{"orient":"bottom","values":[360,380,400,420,440]}},
"y":{"field":"y","type":"quantitative","scale":{"domain":[-0.0025,0.002],"nice":false,"zero":false},"axis":{"orient":"left","format":".4f","values":[-0.0025,-0.002,-0.0015,-0.001,-0.0005,0,0.0005,0.001,0.0015,0.002]}}}},
{"data":{"name":"red"},"transform":[{"filter":{"field":"x","range":[351,443.1]}}],"mark":{"type":"line","color":"#ff0000","strokeWidth":2,"interpolate":"monotone","clip":true},
"encoding":{"x":{"field":"x","type":"quantitative","scale":{"domain":[350,450],"nice":false,"zero":false},"axis":{"orient":"top","labels":false,"values":[360,380,400,420,440]}},
"y":{"field":"y","type":"quantitative","scale":{"domain":[-0.0025,0.002],"nice":false,"zero":false},"axis":{"orient":"right","labels":false,"values":[-0.0025,-0.002,-0.0015,-0.001,-0.0005,0,0.0005,0.001,0.0015,0.002]}}}}
],"resolve":{"axis":{"x":"independent","y":"independent"}}},
{"width":309,"height":52,"layer":[
{"data":{"name":"blue"},"transform":[{"filter":{"field":"x","range":[443.15,540]}}],"mark":{"type":"line","color":"#0000ff","strokeWidth":1.8,"clip":true},
"encoding":{"x":{"field":"x","type":"quantitative","scale":{"domain":[440,540],"nice":false,"zero":false},"axis":{"orient":"bottom","values":[440,460,480,500,520,540]}},
"y":{"field":"y","type":"quantitative","scale":{"domain":[-0.002,0.0015],"nice":false,"zero":false},"axis":{"orient":"left","format":".4f","values":[-0.002,-0.0015,-0.001,-0.0005,0,0.0005,0.001,0.0015]}}}},
{"data":{"name":"red"},"transform":[{"filter":{"field":"x","range":[443.15,540]}}],"mark":{"type":"line","color":"#ff0000","strokeWidth":2,"interpolate":"monotone","clip":true},
"encoding":{"x":{"field":"x","type":"quantitative","scale":{"domain":[440,540],"nice":false,"zero":false},"axis":{"orient":"top","labels":false,"values":[440,460,480,500,520,540]}},
"y":{"field":"y","type":"quantitative","scale":{"domain":[-0.002,0.0015],"nice":false,"zero":false},"axis":{"orient":"right","labels":false,"values":[-0.002,-0.0015,-0.001,-0.0005,0,0.0005,0.001,0.0015]}}}}
],"resolve":{"axis":{"x":"independent","y":"independent"}}}
]
}
